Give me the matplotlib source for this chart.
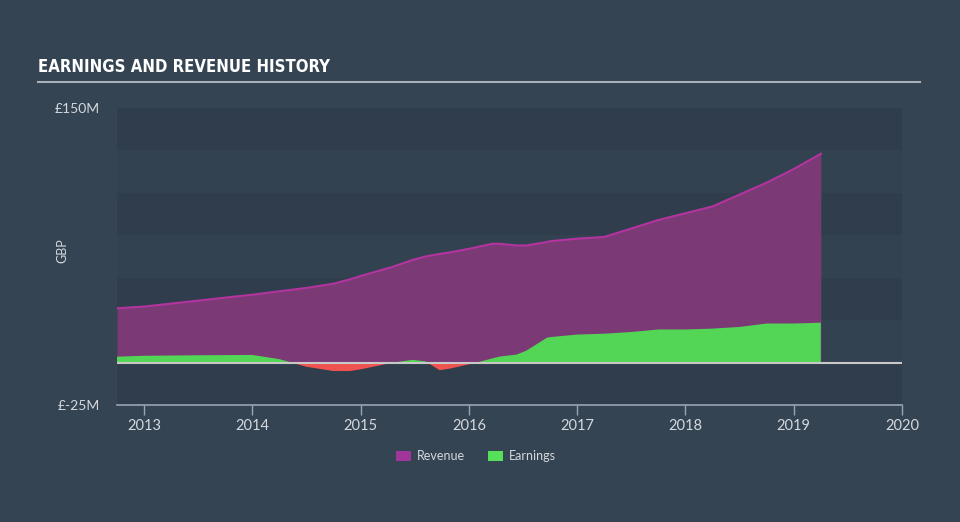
import numpy as np
import matplotlib.pyplot as plt
from matplotlib.patches import Patch

# Data (GBP millions)
dates = [2012.75, 2013.0, 2013.5, 2014.0, 2014.25, 2014.5, 2014.75, 2014.9,
         2015.0, 2015.3, 2015.48, 2015.6, 2015.73, 2015.83, 2016.0, 2016.07,
         2016.22, 2016.28, 2016.44, 2016.53, 2016.72, 2016.75, 2017.0,
         2017.25, 2017.5, 2017.75, 2018.0, 2018.25, 2018.5, 2018.75,
         2019.0, 2019.25]
revenue = [32, 33, 36.5, 40, 42, 44, 46.5, 49,
           51, 56.5, 60.5, 62.5, 64, 65, 67, 68,
           70, 70, 69, 69, 71, 71.5, 73,
           74, 79, 84, 88, 92, 99, 106,
           114, 123]
earnings = [3.5, 4, 4.3, 4.5, 2, -2.5, -5, -5,
            -4, 0, 1.6, 0.7, -4.5, -3.5, -1, 0,
            2.5, 3.5, 4.7, 7, 14.6, 15, 16.5,
            17, 18, 19.5, 19.5, 20, 21, 23,
            23, 23.5]

ticks = [2013, 2014, 2015, 2016, 2017, 2018, 2019, 2020]

bg = '#344453'
band_dark = '#2f3d4c'
band_light = '#334251'
rev_line = '#b4349f'
rev_fill = '#7b3a76'
earn_pos = '#53d655'
earn_neg = '#ef5350'
txt = '#d5d9de'

fig = plt.figure(figsize=(9.6, 5.22), dpi=100, facecolor=bg)
ax = fig.add_axes([117 / 960, 117 / 522, 785 / 960, 297 / 522])
ax.set_facecolor(bg)

# alternating horizontal bands
for i, lo in enumerate(range(-25, 150, 25)):
    ax.axhspan(lo, lo + 25, color=band_dark if i % 2 == 0 else band_light,
               lw=0, zorder=0)

d = np.array(dates)
r = np.array(revenue)
e = np.array(earnings)

ax.fill_between(d, 0, r, color=rev_fill, lw=0, zorder=2)
ax.plot(d, r, color=rev_line, lw=1.5, zorder=3)
ax.fill_between(d, 0, e, where=e >= 0, interpolate=True, color=earn_pos,
                lw=0, zorder=4)
ax.fill_between(d, 0, e, where=e <= 0, interpolate=True, color=earn_neg,
                lw=0, zorder=4)
ax.axhline(0, color='#c8c8c8', lw=1.5, zorder=5)

ax.set_xlim(2012.75, 2020.0)
ax.set_ylim(-25, 150)

for s in ['top', 'right', 'left']:
    ax.spines[s].set_visible(False)
ax.spines['bottom'].set_color('#9aa5b1')
ax.spines['bottom'].set_linewidth(1.2)

ax.set_xticks(ticks)
ax.set_xticklabels([str(t) for t in ticks], family='Lato', fontsize=10.5,
                   color=txt)
ax.tick_params(axis='x', colors='#9aa5b1', length=7, width=1, pad=3,
               labelcolor=txt)
ax.set_yticks([150, -25])
ax.set_yticklabels(['£150M', '£-25M'], family='Lato', fontsize=10, color=txt)
ax.tick_params(axis='y', length=0, pad=12)
ax.set_ylabel('GBP', family='Lato', fontsize=9, color=txt)
ax.yaxis.set_label_coords(-0.062, 0.52)

# title and underline
fig.text(38 / 960, 1 - 67 / 522, 'EARNINGS AND REVENUE HISTORY',
         family=['DejaVu Sans Condensed', 'Liberation Sans Narrow', 'DejaVu Sans'],
         stretch='condensed', weight='bold', fontsize=12,
         color='white', va='center', ha='left')
fig.add_artist(plt.Line2D([38 / 960, 920 / 960], [1 - 82 / 522, 1 - 82 / 522],
                          color='#a9b0b8', lw=1.5))

handles = [Patch(facecolor='#a0359a', label='Revenue'),
           Patch(facecolor='#56e059', label='Earnings')]
leg = fig.legend(handles=handles, loc='center', bbox_to_anchor=(0.496, 66 / 522),
                 ncol=2, frameon=False, handlelength=1.2, handleheight=0.9,
                 columnspacing=1.8, handletextpad=0.5,
                 prop={'family': 'Lato', 'size': 9})
for t in leg.get_texts():
    t.set_color(txt)

fig.savefig('out.png', dpi=100, facecolor=bg)
